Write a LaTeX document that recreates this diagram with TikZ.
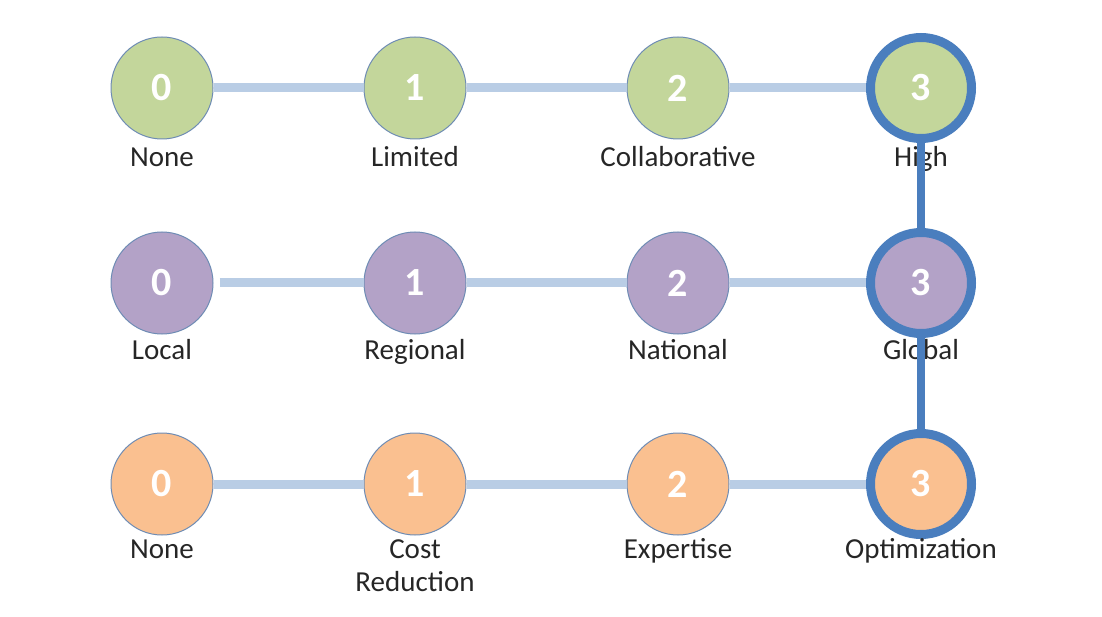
\documentclass[tikz,border=0pt]{standalone}
\usepackage{fontspec}
\setmainfont{Carlito}
\usepackage{tikz}
\usetikzlibrary{positioning}
\definecolor{gradegreen}{RGB}{195,214,155}
\definecolor{gradeviolet}{RGB}{179,162,199}
\definecolor{gradeorange}{RGB}{250,192,144}
\definecolor{rimgrey}{RGB}{110,140,180}
\definecolor{trackblue}{RGB}{185,205,229}
\definecolor{climbblue}{RGB}{74,126,190}
\definecolor{captext}{RGB}{38,38,38}
\tikzstyle{stage}=[draw=rimgrey,line width=1pt,circle,minimum size=102pt,inner sep=0pt,text=white,font=\fontsize{40}{44}\selectfont\bfseries]
\tikzstyle{reached}=[draw=climbblue,line width=9pt,minimum size=101pt]
\tikzstyle{caption}=[text=captext,font=\fontsize{29}{33}\selectfont,align=center,anchor=base]

\begin{document}
\begin{tikzpicture}[x=1pt,y=-1pt,
every edge/.style={draw, trackblue, line width=9pt}]
\useasboundingbox (0,0) rectangle (1102,617);
% first row
\node [stage,fill=gradegreen] (a0) at (162,88) {0};
\node [stage,fill=gradegreen] (a1) at (415,88) {1};
\node [stage,fill=gradegreen] (a2) at (678,88) {2};
\node [stage,reached,fill=gradegreen] (a3) at (921,88) {3};
% second row
\node [stage,fill=gradeviolet] (b0) at (162,283) {0};
\node [stage,fill=gradeviolet] (b1) at (415,283) {1};
\node [stage,fill=gradeviolet] (b2) at (678,283) {2};
\node [stage,reached,fill=gradeviolet] (b3) at (921,283) {3};
% third row
\node [stage,fill=gradeorange] (c0) at (162,484) {0};
\node [stage,fill=gradeorange] (c1) at (415,484) {1};
\node [stage,fill=gradeorange] (c2) at (678,484) {2};
\node [stage,reached,fill=gradeorange] (c3) at (921,484) {3};
\draw (a0) edge (a1) (a1) edge (a2) (a2) edge (a3);
\draw (b0) edge[shorten <=6pt] (b1) (b1) edge (b2) (b2) edge (b3);
\draw (c0) edge (c1) (c1) edge (c2) (c2) edge (c3);
% captions
\node [caption] (ta0) at (162,167) {None};
\node [caption] (ta1) at (415,167) {Limited};
\node [caption] (ta2) at (678,167) {Collaborative};
\node [caption] (ta3) at (921,167) {High};
\node [caption] (tb0) at (162,359) {Local};
\node [caption] (tb1) at (415,359) {Regional};
\node [caption] (tb2) at (678,359) {National};
\node [caption] (tb3) at (921,359) {Global};
\node [caption] (tc0) at (162,558) {None};
\node [caption] (tc1) at (415,591) {Cost\\Reduction};
\node [caption] (tc2) at (678,558) {Expertise};
\node [caption] (tc3) at (921,558) {Optimization};
% path upward
\draw [climbblue,line width=8pt] (a3) -- (b3) (b3) -- (c3);
\end{tikzpicture}
\end{document}
